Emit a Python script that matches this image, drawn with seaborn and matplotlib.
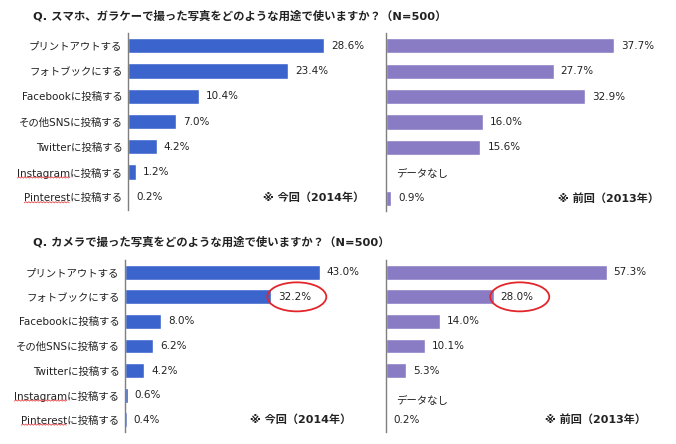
import matplotlib
matplotlib.use("Agg")
import matplotlib.pyplot as plt
from matplotlib.lines import Line2D
from matplotlib.patches import Ellipse
from matplotlib.transforms import ScaledTranslation, blended_transform_factory, IdentityTransform
import numpy as np
import pandas as pd
import seaborn as sns

# データ
categories = [
    "プリントアウトする",
    "フォトブックにする",
    "Facebookに投稿する",
    "その他SNSに投稿する",
    "Twitterに投稿する",
    "Instagramに投稿する",
    "Pinterestに投稿する",
]
smartphone_2014 = [28.6, 23.4, 10.4, 7.0, 4.2, 1.2, 0.2]
smartphone_2013 = [37.7, 27.7, 32.9, 16.0, 15.6, np.nan, 0.9]
camera_2014 = [43.0, 32.2, 8.0, 6.2, 4.2, 0.6, 0.4]
camera_2013 = [57.3, 28.0, 14.0, 10.1, 5.3, np.nan, 0.2]

title_smartphone = "Q. スマホ、ガラケーで撮った写真をどのような用途で使いますか？（N=500）"
title_camera = "Q. カメラで撮った写真をどのような用途で使いますか？（N=500）"
footnote_2014 = "※ 今回（2014年）"
footnote_2013 = "※ 前回（2013年）"
no_data_text = "データなし"
spell_words = ["Instagram", "Pinterest"]

BLUE = "#3b64cc"
PURPLE = "#8a7cc4"
TEXT = "#222222"

sns.set_style("white")
plt.rcParams["font.family"] = ["DejaVu Sans", "Noto Sans CJK JP"]

W, H = 676, 444
fig = plt.figure(figsize=(W / 100, H / 100), dpi=100)


def add_axes(left, top, right, bottom):
    return fig.add_axes([left / W, 1 - bottom / H, (right - left) / W, (bottom - top) / H])


def draw_panel(ax, values, color, xmax, show_labels, footnote, foot_x, nodata_dy):
    df = pd.DataFrame({"category": categories, "value": values}).dropna()
    sns.barplot(data=df, x="value", y="category", order=categories, color=color,
                saturation=1, width=0.6, orient="h", errorbar=None, ax=ax)
    bars = ax.containers[0]
    ax.bar_label(bars, labels=[f"{b.get_width():.1f}%" for b in bars],
                 padding=5, fontsize=7.5, color=TEXT)

    # 値がない項目
    for i, v in enumerate(values):
        if np.isnan(v):
            ax.annotate(no_data_text, (0, i), xytext=(7, nodata_dy), textcoords="offset points",
                        va="center", fontsize=7.5, color=TEXT)

    trans = blended_transform_factory(ax.transAxes, ax.transData)
    ax.text(foot_x, 6, footnote, transform=trans, ha="right", va="center",
            fontsize=8, fontweight="bold", color=TEXT)

    ax.set_xlim(0, xmax)
    ax.set_ylim(6.5, -0.5)
    ax.set_xticks([])
    ax.set_xlabel("")
    ax.set_ylabel("")
    if not show_labels:
        ax.set_yticklabels([])
    ax.tick_params(axis="y", length=0, pad=4, labelsize=7.5, labelcolor=TEXT)
    sns.despine(ax=ax, left=False, top=True, right=True, bottom=True)
    ax.spines["left"].set_color("#7f7f7f")
    ax.spines["left"].set_linewidth(1)
    ax.patch.set_alpha(0)


def circle_label(ax, values, idx):
    # 値ラベルを赤い楕円で囲む
    ell = Ellipse((0.26, 0), 0.59, 0.29, fill=False, edgecolor="#e3262b", lw=1.3,
                  transform=fig.dpi_scale_trans + ScaledTranslation(values[idx], idx, ax.transData))
    ax.add_artist(ell)


ax_tl = add_axes(128, 33, 370, 210)
ax_tr = add_axes(386, 33, 670, 211)
ax_bl = add_axes(125, 260, 370, 432)
ax_br = add_axes(386, 260, 670, 432)

draw_panel(ax_tl, smartphone_2014, BLUE, 35.3, True, footnote_2014, 0.975, -1)
draw_panel(ax_tr, smartphone_2013, PURPLE, 46.9, False, footnote_2013, 0.961, -1)
draw_panel(ax_bl, camera_2014, BLUE, 54.1, True, footnote_2014, 0.922, -1)
draw_panel(ax_br, camera_2013, PURPLE, 73.8, False, footnote_2013, 0.915, -4)

circle_label(ax_bl, camera_2014, 1)
circle_label(ax_br, camera_2013, 1)

fig.text(33 / W, 1 - 16 / H, title_smartphone, va="center", fontsize=8.2,
         fontweight="bold", color=TEXT)
fig.text(33 / W, 1 - 242 / H, title_camera, va="center", fontsize=8.2,
         fontweight="bold", color=TEXT)

# スペルチェックの赤い波線（元画像にあるもの）
fig.canvas.draw()
renderer = fig.canvas.get_renderer()
for ax in [ax_tl, ax_bl]:
    for lab in ax.get_yticklabels():
        for word in spell_words:
            if lab.get_text().startswith(word):
                bb = lab.get_window_extent(renderer)
                tmp = fig.text(0, 0, word, fontproperties=lab.get_fontproperties())
                wb = tmp.get_window_extent(renderer)
                tmp.remove()
                xs = np.arange(bb.x0, bb.x0 + wb.width, 1.5)
                ys = bb.y0 + 0.5 + 1.2 * (np.arange(len(xs)) % 2)
                fig.add_artist(Line2D(xs, ys, transform=IdentityTransform(),
                                      color="#e8484b", lw=0.6))

fig.savefig("out.png", dpi=100)
